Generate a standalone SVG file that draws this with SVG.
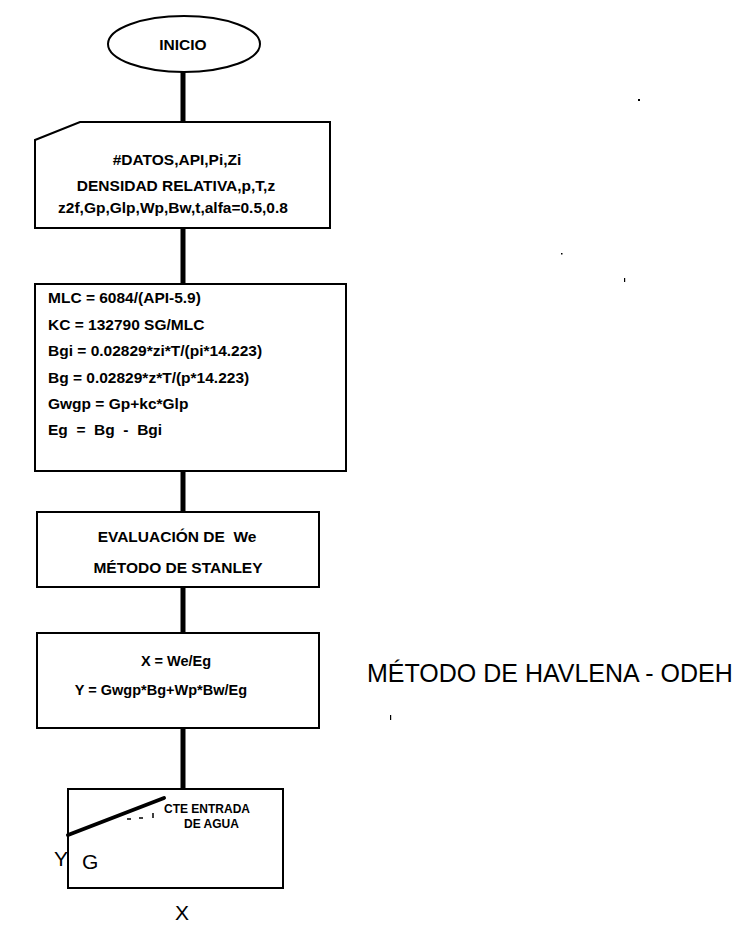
<svg xmlns="http://www.w3.org/2000/svg" width="737" height="929" viewBox="0 0 737 929">
  <style>
    .shape { fill: #fff; stroke: #000; stroke-width: 2; }
    .link { stroke: #000; stroke-width: 5; fill: none; }
    .t { font-family: "Liberation Sans", Arial, sans-serif; font-size: 15.5px; font-weight: bold; fill: #000; white-space: pre; }
    .c { text-anchor: middle; }
    .e { text-anchor: end; }
    .sm { font-size: 14.5px; }
    .big { font-family: "Liberation Sans", Arial, sans-serif; font-size: 25px; fill: #000; }
    .ax { font-family: "Liberation Sans", Arial, sans-serif; font-size: 21px; fill: #000; }
    .small { font-family: "Liberation Sans", Arial, sans-serif; font-size: 12px; font-weight: bold; fill: #000; }
  </style>
  <rect width="737" height="929" fill="#fff"/>

  <!-- connectors between the steps -->
  <g id="connectors">
    <line class="link" x1="183" y1="70" x2="183" y2="122"/>
    <line class="link" x1="183" y1="228" x2="183" y2="284"/>
    <line class="link" x1="183" y1="471" x2="183" y2="512"/>
    <line class="link" x1="183" y1="587" x2="183" y2="633"/>
    <line class="link" x1="183" y1="728" x2="183" y2="789"/>
  </g>

  <g id="inicio">
    <ellipse class="shape" cx="184" cy="44" rx="76" ry="28"/>
    <text class="t c" x="183" y="50">INICIO</text>
  </g>

  <g id="datos">
    <path class="shape" d="M80 122 H330 V228 H35 V140 Z"/>
    <text class="t c" x="177" y="165">#DATOS,API,Pi,Zi</text>
    <text class="t c" x="176" y="191">DENSIDAD RELATIVA,p,T,z</text>
    <text class="t c" x="173" y="213">z2f,Gp,Glp,Wp,Bw,t,alfa=0.5,0.8</text>
  </g>

  <g id="calculos">
    <rect class="shape" x="35" y="284" width="311" height="187"/>
    <text class="t" x="48" y="303">MLC = 6084/(API-5.9)</text>
    <text class="t" x="48" y="330">KC = 132790 SG/MLC</text>
    <text class="t" x="48" y="356">Bgi = 0.02829*zi*T/(pi*14.223)</text>
    <text class="t" x="48" y="383">Bg = 0.02829*z*T/(p*14.223)</text>
    <text class="t" x="48" y="409">Gwgp = Gp+kc*Glp</text>
    <text class="t" x="48" y="435">Eg  =  Bg  -  Bgi</text>
  </g>

  <g id="evaluacion">
    <rect class="shape" x="37" y="512" width="282" height="75"/>
    <text class="t c" x="177" y="542">EVALUACIÓN DE  We</text>
    <text class="t c" x="178" y="573">MÉTODO DE STANLEY</text>
  </g>

  <g id="variables">
    <rect class="shape" x="37" y="633" width="282" height="95"/>
    <text class="t sm c" x="176" y="666">X = We/Eg</text>
    <text class="t sm e" x="247" y="695">Y = Gwgp*Bg+Wp*Bw/Eg</text>
  </g>

  <g id="grafica">
    <rect class="shape" x="68" y="789" width="215" height="99"/>
    <line x1="68" y1="835" x2="164" y2="798" stroke="#000" stroke-width="4" stroke-linecap="round"/>
    <path d="M127 819 h4 M139 818 h4 M153 813 v5" stroke="#000" stroke-width="1.5" fill="none"/>
    <text class="small" x="164" y="813">CTE ENTRADA</text>
    <text class="small" x="184" y="828">DE AGUA</text>
    <text class="ax" x="82" y="869">G</text>
    <text class="ax" x="54" y="866">Y</text>
    <text class="ax" x="175" y="920">X</text>
  </g>

  <g id="titulo">
    <text class="big" x="367" y="682">MÉTODO DE HAVLENA - ODEH</text>
  </g>

  <!-- stray specks -->
  <g id="specks" fill="#000">
    <rect x="638" y="99" width="2" height="2"/>
    <rect x="561" y="253" width="1.5" height="1.5"/>
    <rect x="624" y="278" width="1.2" height="4"/>
    <rect x="390" y="715" width="1.2" height="5"/>
  </g>
</svg>
